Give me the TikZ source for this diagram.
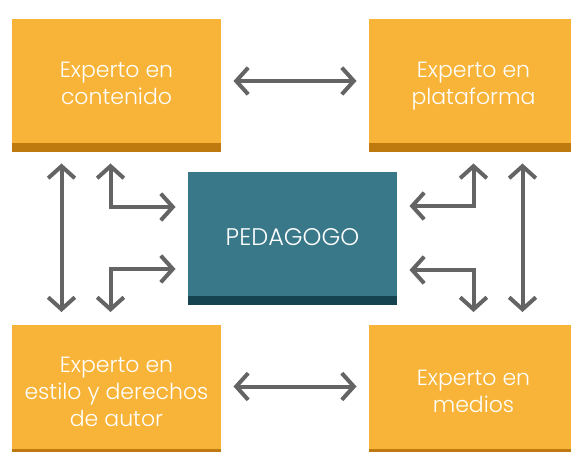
\documentclass[tikz,border=0pt]{standalone}
\usepackage{fontspec}
\setmainfont{Poppins Light}
\usetikzlibrary{arrows.meta}

\definecolor{naranja}{RGB}{248,180,56}
\definecolor{naranjaosc}{RGB}{191,122,15}
\definecolor{azul}{RGB}{57,120,137}
\definecolor{azulosc}{RGB}{21,68,80}
\definecolor{gris}{RGB}{100,100,100}

\tikzset{every picture/.style={line width=0.75pt}}

\begin{document}
\begin{tikzpicture}[x=0.75pt,y=0.75pt,yscale=-1,xscale=1,
  caja/.style={fill=naranja, minimum width=156.75pt, minimum height=93pt, inner sep=0pt},
  texto/.style={inner sep=0pt, text=white, align=center, font=\fontsize{16.5}{20.3}\selectfont, execute at begin node=\strut, execute at end node=\strut},
  franja/.style={fill=naranjaosc},
  flecha/.style={draw=gris, line width=3pt, {Straight Barb[length=9pt,width=20pt]}-{Straight Barb[length=9pt,width=20pt]}}]
\useasboundingbox (0,0) rectangle (571,452);
\clip (0,0) rectangle (571,452);

%Shape: Rectangle [tl]
\node [caja] (tl) at (116.5,81) {};
\fill [franja] (tl.south west) rectangle ++(209,9);
%Shape: Rectangle [tr]
\node [caja] (tr) at (473.5,81) {};
\fill [franja] (tr.south west) rectangle ++(209,9);
%Shape: Rectangle [bl]
\node [caja] (bl) at (116.5,386.5) {};
\fill [franja] (bl.south west) rectangle ++(209,9);
%Shape: Rectangle [br]
\node [caja] (br) at (473.5,386.5) {};
\fill [franja] (br.south west) rectangle ++(209,9);
%Shape: Rectangle [ped]
\node [caja, fill=azul] (ped) at (292.5,234) {};
\fill [fill=azulosc] (ped.south west) rectangle ++(209,9);

% Text Node
\node [texto] (tl-t) at ([shift={(0,6.5)}]tl.center) {Experto en\\contenido};
% Text Node
\node [texto] (tr-t) at ([shift={(0,6.5)}]tr.center) {Experto en\\plataforma};
% Text Node
\node [texto] (bl-t) at ([shift={(0,9.5)}]bl.center) {Experto en\\estilo y derechos\\de autor};
% Text Node
\node [texto] (br-t) at ([shift={(0,9)}]br.center) {Experto en\\medios};
% Text Node
\node [texto, font=\fontsize{18}{20}\selectfont] (ped-t) at ([shift={(0,6)}]ped.center) {PEDAGOGO};

%Straight Lines
\draw [flecha] ([xshift=9pt]tl.east) -- ([xshift=-9pt]tr.west);
\draw [flecha] ([xshift=9pt]bl.east) -- ([xshift=-9pt]br.west);
\draw [flecha] ([shift={(50,20)}]tl.south west) -- ([shift={(50,-12)}]bl.north west);
\draw [flecha] ([shift={(154,20)}]tr.south west) -- ([shift={(154,-12)}]br.north west);
%Elbow Lines
\draw [flecha] ([shift={(99,20)}]tl.south west) |- ([shift={(-12,-27)}]ped.west);
\draw [flecha] ([shift={(-12,35)}]ped.west) -| ([shift={(99,-12)}]bl.north west);
\draw [flecha] ([shift={(0,20)}]tr.south) |- ([shift={(12,-28)}]ped.east);
\draw [flecha] ([shift={(12,36)}]ped.east) -| ([shift={(0,-12)}]br.north);

\end{tikzpicture}
\end{document}
